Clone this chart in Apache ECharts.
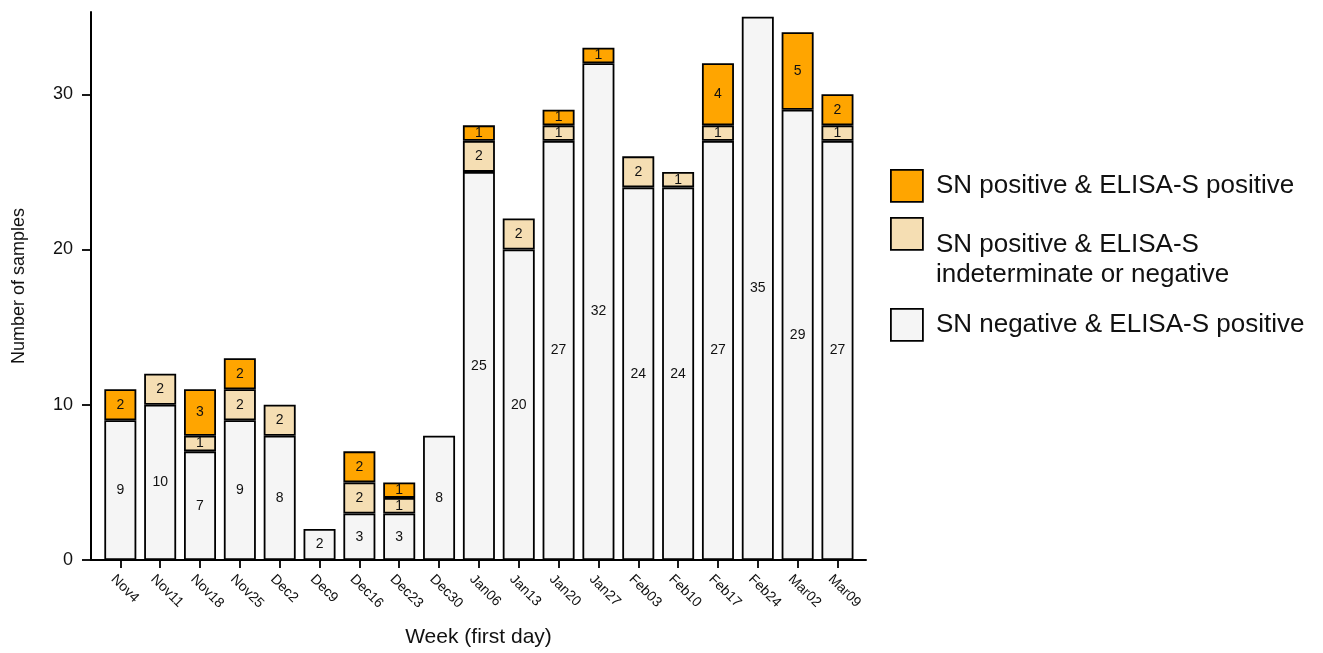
<!DOCTYPE html>
<html><head><meta charset="utf-8">
<script src="https://cdn.jsdelivr.net/npm/echarts@6/dist/echarts.min.js"></script>
<style>html,body{margin:0;padding:0;background:#fff}#c{width:1323px;height:653px}</style>
</head><body><div id="c"></div>
<script>
const weeks = ['Nov4','Nov11','Nov18','Nov25','Dec2','Dec9','Dec16','Dec23','Dec30','Jan06','Jan13','Jan20','Jan27','Feb03','Feb10','Feb17','Feb24','Mar02','Mar09'];
const snNegElisaPos = [9,10,7,9,8,2,3,3,8,25,20,27,32,24,24,27,35,29,27];
const snPosElisaIndNeg = [0,2,1,2,2,0,2,1,0,2,2,1,0,2,1,1,0,0,1];
const snPosElisaPos = [2,0,3,2,0,0,2,1,0,1,0,1,1,0,0,4,0,5,2];
const seriesNames = ['SN positive & ELISA-S positive','SN positive & ELISA-S\nindeterminate or negative','SN negative & ELISA-S positive'];
const yTicks = [0,10,20,30];
const yMax = 35.3;

const FONT = 'Liberation Sans, Arial, sans-serif';
const mk = (name, data, color) => ({
  name, type:'bar', stack:'s', xAxisIndex:0, yAxisIndex:0,
  data: data.map(v => v === 0 ? null : v), barWidth: 32,
  itemStyle:{color, borderColor:'#000', borderWidth:1.8},
  label:{show:true, position:'inside', color:'#111', fontSize:14, fontFamily:FONT},
  emphasis:{disabled:true}
});

const chart = echarts.init(document.getElementById('c'), null, {renderer:'canvas'});
const legendBase = {
  orient:'vertical', left:890, padding:0, itemWidth:32, itemHeight:32, icon:'rect',
  formatter: n => n.split('\n').map(s => '{t|' + s + '}').join('\n'),
  textStyle:{padding:[0,0,0,8], rich:{t:{fontSize:26, lineHeight:30, fontFamily:FONT, color:'#111'}}},
  itemStyle:{borderColor:'#000', borderWidth:1.8}, selectedMode:false
};
const axisGrid = {top:12, bottom:93};
chart.setOption({
  animation:false,
  grid:[
    Object.assign({left:100.4, right:465.6}, axisGrid),
    Object.assign({left:91, right:457}, axisGrid)
  ],
  legend:[
    Object.assign({}, legendBase, {top:169, data:[seriesNames[0]]}),
    Object.assign({}, legendBase, {top:217, data:[seriesNames[1]],
      textStyle:Object.assign({}, legendBase.textStyle, {padding:[52,0,0,8]})}),
    Object.assign({}, legendBase, {top:308, data:[seriesNames[2]]})
  ],
  xAxis:[{
    gridIndex:0, type:'category', data:weeks, boundaryGap:true,
    axisLine:{show:false},
    axisTick:{show:true, alignWithLabel:true, interval:0, length:8, lineStyle:{color:'#000', width:1.8}},
    axisLabel:{interval:0, rotate:-45, fontSize:14, fontFamily:FONT, color:'#111', margin:10,
      align:'left', verticalAlign:'top', padding:[3,0,0,0]}
  },{
    gridIndex:1, type:'value', min:0, max:1,
    name:'Week (first day)', nameLocation:'middle', nameGap:67,
    nameTextStyle:{fontSize:21, fontFamily:FONT, color:'#111'},
    splitLine:{show:false}, axisTick:{show:false}, axisLabel:{show:false},
    axisLine:{show:true, onZero:false, lineStyle:{color:'#000', width:2}}
  }],
  yAxis:[{
    gridIndex:0, type:'value', min:0, max:yMax, show:false, splitLine:{show:false}
  },{
    gridIndex:1, type:'value', min:0, max:yMax,
    name:'Number of samples', nameLocation:'middle', nameGap:63,
    nameTextStyle:{fontSize:18, fontFamily:FONT, color:'#111'},
    splitLine:{show:false},
    axisLine:{show:true, onZero:false, lineStyle:{color:'#000', width:2}},
    axisTick:{show:true, length:9, lineStyle:{color:'#000', width:1.8}, customValues:yTicks},
    axisLabel:{fontSize:18, fontFamily:FONT, color:'#111', margin:18, customValues:yTicks}
  }],
  series:[
    mk(seriesNames[2], snNegElisaPos, '#F5F5F5'),
    mk(seriesNames[1], snPosElisaIndNeg, '#F5DEB3'),
    mk(seriesNames[0], snPosElisaPos, '#FFA500')
  ]
});
</script></body></html>
